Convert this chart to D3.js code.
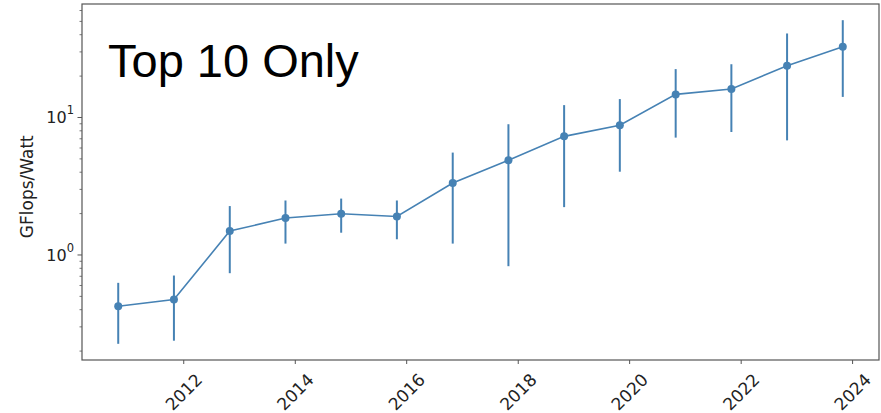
<!DOCTYPE html>
<html>
<head>
<meta charset="utf-8">
<script src="https://cdn.jsdelivr.net/npm/d3@7"></script>
<style>
  html, body { margin: 0; padding: 0; background: #fff; }
  svg { display: block; }
</style>
</head>
<body>
<svg id="chart" width="881" height="413"></svg>
<script>
// Green500 November lists: mean efficiency of the top 10 systems, with min/max range
const listDates = ["2010-11-01","2011-11-01","2012-11-01","2013-11-01","2014-11-01","2015-11-01","2016-11-01",
                   "2017-11-01","2018-11-01","2019-11-01","2020-11-01","2021-11-01","2022-11-01","2023-11-01"];
const meanGflopsPerWatt = [0.42, 0.47, 1.48, 1.84, 1.98, 1.89, 3.31, 4.84, 7.23, 8.70, 14.6, 16.0, 23.6, 32.4];
const lowGflopsPerWatt  = [0.224, 0.236, 0.731, 1.20, 1.44, 1.29, 1.20, 0.822, 2.21, 4.00, 7.08, 7.78, 6.76, 14.0];
const highGflopsPerWatt = [0.622, 0.703, 2.25, 2.47, 2.55, 2.47, 5.51, 8.86, 12.2, 13.5, 22.3, 24.2, 40.5, 50.6];
const yTickExponents = [0, 1];
const titleText = "Top 10 Only";
const yLabel = "GFlops/Watt";

const W = 881, H = 413;
const margin = { left: 82, right: 2, top: 4, bottom: 53 };
const innerW = W - margin.left - margin.right;
const innerH = H - margin.top - margin.bottom;
const color = "#4682b4";

const parse = d3.utcParse("%Y-%m-%d");
const points = listDates.map((d, i) => ({
  date: parse(d), mean: meanGflopsPerWatt[i], lo: lowGflopsPerWatt[i], hi: highGflopsPerWatt[i]
}));

// 5% padding on both axes (log space for y)
const tExt = d3.extent(points, d => +d.date);
const tPad = (tExt[1] - tExt[0]) * 0.05;
const x = d3.scaleUtc()
  .domain([new Date(tExt[0] - tPad), new Date(tExt[1] + tPad)])
  .range([0, innerW]);

const lMin = Math.log10(d3.min(points, d => d.lo));
const lMax = Math.log10(d3.max(points, d => d.hi));
const lPad = (lMax - lMin) * 0.05;
const y = d3.scaleLog()
  .domain([Math.pow(10, lMin - lPad), Math.pow(10, lMax + lPad)])
  .range([innerH, 0]);

const svg = d3.select("#chart");
const g = svg.append("g").attr("transform", `translate(${margin.left},${margin.top})`);

// x axis: every other year, rotated labels
const xAxis = d3.axisBottom(x)
  .ticks(d3.utcYear.every(2))
  .tickFormat(d3.utcFormat("%Y"))
  .tickSize(4).tickPadding(0);
const gx = g.append("g").attr("transform", `translate(0,${innerH})`).call(xAxis);
gx.select(".domain").remove();
gx.selectAll(".tick line").attr("stroke", "#555").attr("stroke-width", 1);
gx.selectAll(".tick text")
  .attr("fill", "#222")
  .attr("font-family", "DejaVu Sans, sans-serif")
  .attr("font-size", 17)
  .attr("text-anchor", "middle")
  .attr("dy", null)
  .attr("y", null)
  .attr("transform", "translate(0,32) rotate(-45)")
  .attr("dominant-baseline", "central");

// y axis: minor ticks at every 2..9 × 10^k, labels only at decades
const [yd0, yd1] = y.domain();
const minorVals = [];
for (let k = Math.floor(Math.log10(yd0)); k <= Math.ceil(Math.log10(yd1)); k++) {
  for (let m = 2; m <= 9; m++) {
    const v = m * Math.pow(10, k);
    if (v >= yd0 && v <= yd1) minorVals.push(v);
  }
}
const gyMinor = g.append("g").call(d3.axisLeft(y).tickValues(minorVals).tickSize(2.5).tickFormat(""));
gyMinor.select(".domain").remove();
gyMinor.selectAll(".tick line").attr("stroke", "#555").attr("stroke-width", 0.8);

const gy = g.append("g").call(
  d3.axisLeft(y).tickValues(yTickExponents.map(e => Math.pow(10, e))).tickSize(4.5).tickPadding(4).tickFormat("")
);
gy.select(".domain").remove();
gy.selectAll(".tick line").attr("stroke", "#555").attr("stroke-width", 1);
gy.selectAll(".tick").each(function(d, i) {
  const t = d3.select(this).append("text")
    .attr("x", -8).attr("y", 0)
    .attr("text-anchor", "end")
    .attr("dominant-baseline", "central")
    .attr("fill", "#222")
    .attr("font-family", "DejaVu Sans, sans-serif")
    .attr("font-size", 16);
  t.append("tspan").text("10");
  t.append("tspan").attr("font-size", 11.5).attr("dy", -7).text(String(yTickExponents[i]));
});

// frame
g.append("rect")
  .attr("width", innerW).attr("height", innerH)
  .attr("fill", "none").attr("stroke", "#555").attr("stroke-width", 1.2);

// y label
svg.append("text")
  .attr("transform", `translate(33,${margin.top + y(Math.sqrt(10)) + 1})rotate(-90)`)
  .attr("text-anchor", "middle")
  .attr("fill", "#222")
  .attr("font-family", "DejaVu Sans, sans-serif")
  .attr("font-size", 17)
  .text(yLabel);

// error bars
g.selectAll("line.err").data(points).join("line")
  .attr("class", "err")
  .attr("x1", d => x(d.date)).attr("x2", d => x(d.date))
  .attr("y1", d => y(d.lo)).attr("y2", d => y(d.hi))
  .attr("stroke", color).attr("stroke-width", 2);

// mean line
g.append("path").datum(points)
  .attr("fill", "none").attr("stroke", color).attr("stroke-width", 1.6)
  .attr("d", d3.line().x(d => x(d.date)).y(d => y(d.mean)));

// markers
g.selectAll("circle.pt").data(points).join("circle")
  .attr("class", "pt")
  .attr("cx", d => x(d.date)).attr("cy", d => y(d.mean))
  .attr("r", 4).attr("fill", color);

// title inside the axes
g.append("text")
  .attr("x", 26).attr("y", 73)
  .attr("fill", "#000")
  .attr("font-family", "Liberation Sans, Arial, sans-serif")
  .attr("font-size", 47)
  .text(titleText);
</script>
</body>
</html>
